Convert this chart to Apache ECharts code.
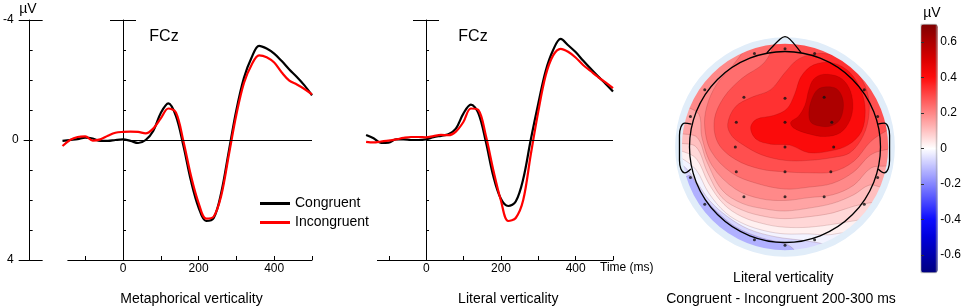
<!DOCTYPE html>
<html lang="en">
<head>
<meta charset="UTF-8">
<title>FCz ERPs and topography</title>
<script src="https://cdn.jsdelivr.net/npm/echarts@6/dist/echarts.min.js"></script>
<style>
  html, body { margin: 0; padding: 0; background: #fff; }
  #main { width: 964px; height: 308px; }
</style>
</head>
<body>
<div id="main"></div>
<script>
// ---- ERP data at FCz (uV, negative up), every 20 ms ----
const times = [-160, -140, -120, -100, -80, -60, -40, -20, 0, 20, 40, 60, 80, 100, 120, 140, 160,
  180, 200, 220, 240, 260, 280, 300, 320, 340, 360, 380, 400, 420, 440, 460, 480, 500];
const metaCongruent = [0.03, 0.0, -0.03, -0.08, -0.05, 0.03, 0.03, 0.0, -0.02, 0.03, 0.1, 0.0, -0.3, -0.9, -1.22, -0.8, 0.2,
  1.37, 2.25, 2.7, 2.6, 1.75, 0.37, -1.0, -2.07, -2.74, -3.14, -3.05, -2.88, -2.63, -2.35, -2.1, -1.82, -1.49];
const metaIncongruent = [0.2, 0.0, -0.1, -0.12, 0.02, -0.02, -0.14, -0.24, -0.27, -0.28, -0.27, -0.22, -0.38, -0.72, -1.05, -0.92, 0.05,
  1.2, 2.1, 2.62, 2.55, 1.85, 0.5, -0.85, -1.9, -2.5, -2.82, -2.76, -2.58, -2.25, -1.98, -1.85, -1.7, -1.52];
const litCongruent = [-0.17, -0.06, 0.1, 0.09, -0.02, -0.02, 0.0, 0.0, -0.02, -0.09, -0.14, -0.19, -0.38, -0.88, -1.18, -0.9, 0.05,
  1.2, 1.95, 2.2, 2.05, 1.3, 0.0, -1.2, -2.3, -3.0, -3.37, -3.16, -2.93, -2.65, -2.38, -2.12, -1.88, -1.62];
const litIncongruent = [0.06, 0.08, 0.05, 0.02, -0.02, -0.07, -0.1, -0.1, -0.09, -0.13, -0.17, -0.16, -0.28, -0.6, -1.05, -1.0, -0.15,
  1.0, 2.0, 2.7, 2.6, 2.0, 0.5, -0.93, -2.15, -2.82, -3.04, -2.94, -2.75, -2.5, -2.3, -2.1, -1.92, -1.73];
const timeTicks = [-100, 0, 100, 200, 300, 400, 500];
const timeLabels = [0, 200, 400];

// ---- topography (head units, head radius = 1) ----
const electrodes = [[-0.32, 0.98], [0, 1.03], [0.31, 0.98], [-0.84, 0.60], [0.83, 0.60], [-0.43, 0.52], [0, 0.51], [0.41, 0.52],
  [-0.99, 0.32], [0.97, 0.32], [-0.51, 0.26], [0, 0.26], [0.49, 0.26], [-0.52, 0], [0, 0], [0.51, 0],
  [-0.99, -0.32], [0.97, -0.32], [-0.51, -0.26], [0, -0.26], [0.48, -0.26], [-0.43, -0.52], [0, -0.52], [0.41, -0.52],
  [-0.84, -0.60], [0.83, -0.60], [-0.32, -0.97], [0, -1.03], [0.31, -0.97]];
const baseValue = -0.13;
const bandValues = [-0.065, -0.02, 0.025, 0.065, 0.105, 0.15, 0.195, 0.24, 0.29, 0.34, 0.41, 0.51, 0.6];
const bandRimDir = [1, 1, 1, 1, 1, 1, 1, 1, 1, 0, 0, 0, 0];
const bandLines = [
  [[-0.99, -0.30], [-0.87, -0.50], [-0.71, -0.68], [-0.51, -0.84], [-0.25, -0.95], [0.02, -1.02], [0.12, -1.1]],
  [[-1.06, -0.20], [-0.93, -0.36], [-0.79, -0.56], [-0.60, -0.73], [-0.38, -0.86], [-0.10, -0.94], [0.2, -0.98], [0.42, -1.02]],
  [[-1.08, -0.12], [-0.93, -0.24], [-0.80, -0.48], [-0.62, -0.69], [-0.42, -0.81], [-0.20, -0.88], [0, -0.91], [0.25, -0.91], [0.45, -0.92], [0.62, -0.90]],
  [[-1.09, -0.04], [-0.93, -0.12], [-0.80, -0.38], [-0.64, -0.60], [-0.45, -0.73], [-0.20, -0.81], [0, -0.84], [0.25, -0.84], [0.50, -0.81], [0.68, -0.78], [0.82, -0.76]],
  [[-1.09, 0.04], [-0.93, 0.0], [-0.81, -0.27], [-0.66, -0.53], [-0.45, -0.66], [-0.20, -0.73], [0, -0.75], [0.25, -0.73], [0.50, -0.69], [0.72, -0.62], [0.93, -0.58]],
  [[-1.09, 0.14], [-0.92, 0.10], [-0.82, -0.15], [-0.66, -0.45], [-0.45, -0.59], [-0.20, -0.65], [0, -0.67], [0.25, -0.64], [0.50, -0.59], [0.72, -0.50], [0.88, -0.40], [1.0, -0.42]],
  [[-1.02, 0.42], [-0.90, 0.34], [-0.87, 0.10], [-0.76, -0.20], [-0.52, -0.44], [-0.26, -0.54], [0, -0.56], [0.25, -0.53], [0.50, -0.50], [0.72, -0.40], [0.90, -0.22], [1.06, -0.20]],
  [[-0.40, 1.05], [-0.55, 0.85], [-0.72, 0.65], [-0.82, 0.42], [-0.84, 0.20], [-0.77, -0.05], [-0.56, -0.27], [-0.30, -0.38], [0, -0.44], [0.25, -0.42], [0.50, -0.38], [0.72, -0.26], [0.90, -0.08], [1.09, -0.02]],
  [[-0.10, 1.10], [-0.22, 0.88], [-0.45, 0.72], [-0.64, 0.52], [-0.74, 0.28], [-0.70, 0.04], [-0.52, -0.13], [-0.26, -0.23], [0, -0.26], [0.25, -0.27], [0.50, -0.26], [0.72, -0.15], [0.90, 0.06], [1.08, 0.18]],
  [[-0.60, 0.24], [-0.52, 0.42], [-0.35, 0.52], [-0.15, 0.60], [0.0, 0.78], [0.14, 0.92], [0.35, 0.98], [0.56, 0.94], [0.74, 0.80], [0.86, 0.58], [0.88, 0.35], [0.82, 0.12], [0.68, -0.06], [0.50, -0.11], [0.25, -0.14], [0.0, -0.14], [-0.25, -0.08], [-0.45, 0.03], [-0.56, 0.12]],
  [[-0.36, 0.20], [-0.30, 0.29], [-0.12, 0.33], [0.02, 0.40], [0.10, 0.55], [0.17, 0.74], [0.30, 0.86], [0.50, 0.88], [0.68, 0.78], [0.80, 0.58], [0.84, 0.38], [0.80, 0.16], [0.66, 0.02], [0.48, -0.04], [0.25, -0.06], [0.05, 0.02], [-0.15, 0.03], [-0.30, 0.08]],
  [[0.40, 0.76], [0.57, 0.73], [0.67, 0.62], [0.71, 0.45], [0.68, 0.28], [0.58, 0.15], [0.42, 0.11], [0.24, 0.14], [0.09, 0.20], [0.06, 0.26], [0.14, 0.32], [0.21, 0.44], [0.25, 0.60], [0.30, 0.71]],
  [[0.43, 0.63], [0.54, 0.61], [0.60, 0.52], [0.61, 0.40], [0.57, 0.28], [0.48, 0.22], [0.36, 0.22], [0.27, 0.26], [0.25, 0.36], [0.28, 0.50], [0.34, 0.60]]
];
const nose = [[-0.19, 0.985], [-0.05, 1.13], [0, 1.155], [0.05, 1.13], [0.17, 0.985]];
const earRight = [[0.97, 0.24], [1.04, 0.25], [1.08, 0.21], [1.095, 0.12], [1.095, -0.14], [1.08, -0.23], [1.04, -0.27], [0.975, -0.23]];
const earLeft = earRight.map(p => [-p[0] - 0.01, p[1]]);
const colorbarTicks = [-0.6, -0.4, -0.2, 0, 0.2, 0.4, 0.6];
const colorScale = ['#000080', '#0000ad', '#0000db', '#0c0cff', '#4949ff', '#8686ff', '#c2c2ff', '#ffffff',
  '#ffc2c2', '#ff8686', '#ff4949', '#ff0c0c', '#db0000', '#ad0000', '#800000'];

const FONT = 'Liberation Sans, Arial, sans-serif';
const MAP_R = 1.09, RIM_R = 1.13;

// contour line closed along the scalp rim
function bandPolygon(pts, dir) {
  if (!dir) return pts;
  const a = pts[pts.length - 1], b = pts[0];
  let a0 = Math.atan2(a[1], a[0]), a1 = Math.atan2(b[1], b[0]);
  if (dir > 0) { while (a1 <= a0) a1 += 2 * Math.PI; }
  const n = Math.ceil((a1 - a0) / (Math.PI / 36));
  const out = pts.slice();
  for (let k = 0; k <= n; k++) {
    const t = a0 + (a1 - a0) * k / n;
    out.push([RIM_R * Math.cos(t), RIM_R * Math.sin(t)]);
  }
  return out;
}
const bandPolys = bandLines.map((l, i) => bandPolygon(l, bandRimDir[i]));

const chart = echarts.init(document.getElementById('main'));

const grid = [], xAxis = [], yAxis = [];
function addGrid(g, x, y) {
  grid.push(g);
  const gi = grid.length - 1;
  xAxis.push(Object.assign({gridIndex: gi, type: 'value', show: false}, x || {}));
  const xi = xAxis.length - 1;
  yAxis.push(Object.assign({gridIndex: gi, type: 'value', show: false}, y || {}));
  return {gi, xi, yi: yAxis.length - 1};
}
const black = {color: '#000', width: 1};
// a vertical uV axis with caps at -4 and 4
function capAxes(gi, withLabels) {
  const base = {gridIndex: gi, type: 'value', min: -4, max: 4, inverse: true, position: 'left', splitLine: {show: false}};
  yAxis.push(Object.assign({}, base, {
    interval: 1, axisLine: {show: true, lineStyle: black},
    axisTick: {show: true, inside: true, length: 3, lineStyle: black},
    axisLabel: withLabels ? {show: true, margin: 16, fontSize: 12, color: '#000',
      formatter: v => (v === -4 || v === 4) ? String(v) : ''} : {show: false}
  }));
  yAxis.push(Object.assign({}, base, {
    interval: 8, axisLine: {show: false},
    axisTick: {show: true, inside: false, length: withLabels ? 11 : 13, lineStyle: black}, axisLabel: {show: false}
  }));
  yAxis.push(Object.assign({}, base, {
    interval: 8, axisLine: {show: false},
    axisTick: {show: true, inside: true, length: 13, lineStyle: black}, axisLabel: {show: false}
  }));
  if (withLabels) {
    yAxis.push(Object.assign({}, base, {
      interval: 4, axisLine: {show: false},
      axisTick: {show: true, inside: false, length: 6, lineStyle: black},
      axisLabel: {show: true, margin: 11, fontSize: 12, color: '#000', formatter: v => v === 0 ? '0' : ''}
    }));
  }
}
function timeAxis(min) {
  return {
    show: true, position: 'bottom', min: min, max: 500,
    axisLine: {show: true, onZero: false, lineStyle: black},
    axisTick: {show: true, inside: true, length: 4, customValues: timeTicks, lineStyle: black},
    axisLabel: {show: true, customValues: timeLabels, margin: 3, fontSize: 12, color: '#000'},
    splitLine: {show: false}
  };
}
const uvRange = {min: -4, max: 4, inverse: true};

const d1 = addGrid({left: 62.5, top: 20, width: 249.5, height: 240}, {min: -160, max: 500}, uvRange);
addGrid({left: 67.8, top: 20, width: 244.2, height: 240}, timeAxis(-146), uvRange);
const d2 = addGrid({left: 366.1, top: 20, width: 246.9, height: 240}, {min: -160, max: 500}, uvRange);
addGrid({left: 377.4, top: 20, width: 235.6, height: 240}, timeAxis(-131), uvRange);
const gL = addGrid({left: 29, top: 20, width: 1, height: 240}, {min: 0, max: 1}, uvRange);
capAxes(gL.gi, true);
const gV1 = addGrid({left: 123, top: 20, width: 1, height: 240}, {min: 0, max: 1}, uvRange);
capAxes(gV1.gi, false);
const gV2 = addGrid({left: 426, top: 20, width: 1, height: 240}, {min: 0, max: 1}, uvRange);
capAxes(gV2.gi, false);
// topography: centre (785,147), head radius 95.5 px
const T = addGrid({left: 785 - 1.25 * 95.5, top: 147 - 1.25 * 95.5, width: 2.5 * 95.5, height: 2.5 * 95.5},
  {min: -1.25, max: 1.25}, {min: -1.25, max: 1.25});
// colour bar scale
const cb = addGrid({left: 921, top: 24.3, width: 16.7, height: 248.4, show: true, borderColor: '#999', borderWidth: 0.6, z: 6},
  {min: 0, max: 1}, {min: -0.7, max: 0.7});
yAxis[cb.yi] = {
  gridIndex: cb.gi, type: 'value', min: -0.7, max: 0.7, position: 'right', z: 6,
  axisLine: {show: false}, splitLine: {show: false},
  axisTick: {show: false},
  axisLabel: {show: true, customValues: colorbarTicks, margin: 4, fontSize: 12, color: '#000',
    formatter: v => v === 0 ? '0' : v.toFixed(1)}
};
yAxis.push({
  gridIndex: cb.gi, type: 'value', min: -0.7, max: 0.7, position: 'left', z: 6,
  axisLine: {show: false}, splitLine: {show: false}, axisLabel: {show: false},
  axisTick: {show: true, inside: true, length: 3, customValues: colorbarTicks, lineStyle: {color: '#333', width: 1}}
});

function erpLine(name, vals, g, color, zero) {
  const s = {
    name: name, type: 'line', xAxisIndex: g.xi, yAxisIndex: g.yi, smooth: 0.35, symbol: 'none',
    data: times.map((t, i) => [t, vals[i]]), lineStyle: {color: color, width: 2.2}, itemStyle: {color: color},
    silent: true, z: 3
  };
  if (zero) {
    s.markLine = {silent: true, symbol: 'none', label: {show: false}, lineStyle: {color: '#000', width: 1, type: 'solid'},
      data: [[{coord: [0, 0]}, {coord: [500, 0]}]]};
  }
  return s;
}

const series = [
  erpLine('Congruent', metaCongruent, d1, '#000', true),
  erpLine('Incongruent', metaIncongruent, d1, '#ff0000', false),
  erpLine('Congruent', litCongruent, d2, '#000', true),
  erpLine('Incongruent', litIncongruent, d2, '#ff0000', false)
];
const bandSeriesIndex = series.length;
series.push({
  type: 'custom', xAxisIndex: T.xi, yAxisIndex: T.yi, silent: true,
  dimensions: ['v', 'band', 'x', 'y'], encode: {x: 2, y: 3},
  data: [[baseValue, -1, 0, 0]].concat(bandValues.map((v, i) => [v, i, 0, 0])),
  renderItem: (params, api) => {
    const idx = api.value(1);
    const fill = api.visual('color');
    if (idx < 0) {
      const c = api.coord([0, 0]);
      return {type: 'circle', shape: {cx: c[0], cy: c[1], r: api.size([MAP_R, 0])[0]}, style: {fill: fill}};
    }
    return {type: 'polygon', shape: {points: bandPolys[idx].map(p => api.coord(p)), smooth: 0.35},
      style: {fill: fill, stroke: 'rgba(90,0,0,0.25)', lineWidth: 0.6}};
  }
});
function ring(r, w, color) {
  return {
    type: 'custom', xAxisIndex: T.xi, yAxisIndex: T.yi, silent: true, data: [[0, 0]],
    renderItem: (params, api) => {
      const c = api.coord([0, 0]);
      return {type: 'circle', shape: {cx: c[0], cy: c[1], r: api.size([r, 0])[0]},
        style: {fill: 'none', stroke: color, lineWidth: w ? api.size([w, 0])[0] : 1.3}};
    }
  };
}
series.push(ring(1.115, 0.07, '#e1edf9'));
series.push(ring(1.0, 0, '#000'));
[nose, earLeft, earRight].forEach(pts => series.push({
  type: 'line', xAxisIndex: T.xi, yAxisIndex: T.yi, data: pts, smooth: 0.4, symbol: 'none', silent: true,
  lineStyle: {color: '#000', width: 1.3}
}));
series.push({
  type: 'scatter', xAxisIndex: T.xi, yAxisIndex: T.yi, data: electrodes, symbolSize: 3, silent: true,
  itemStyle: {color: '#111'}
});

function label(text, x, y, size, align) {
  return {type: 'text', x: x, y: y, silent: true, z: 10,
    style: {text: text, fontSize: size, fontFamily: FONT, fill: '#000',
      align: align || 'center', verticalAlign: 'middle', textAlign: align || 'center', textVerticalAlign: 'middle'}};
}

const option = {
  animation: false,
  textStyle: {fontFamily: FONT},
  grid: grid, xAxis: xAxis, yAxis: yAxis, series: series,
  legend: {
    data: ['Congruent', 'Incongruent'], orient: 'vertical', left: 260, top: 196.5, padding: 0,
    icon: 'rect', itemWidth: 30, itemHeight: 3, itemGap: 5, selectedMode: false,
    textStyle: {fontSize: 14, color: '#000', lineHeight: 14, fontFamily: FONT}
  },
  visualMap: {
    type: 'continuous', seriesIndex: bandSeriesIndex, dimension: 0, min: -0.7, max: 0.7,
    inRange: {color: colorScale}, left: 921, top: 24.3, itemWidth: 16.7, itemHeight: 248.4,
    calculable: false, hoverLink: false, padding: 0, text: null, orient: 'vertical'
  },
  graphic: [
    label('\u00b5V', 28, 9, 14),
    label('FCz', 164, 37, 16),
    label('FCz', 473, 37, 16),
    label('Metaphorical verticality', 191.5, 299, 14),
    label('Literal verticality', 508.3, 299, 14),
    label('Time (ms)', 600, 268, 12, 'left'),
    label('Literal verticality', 783.3, 278, 14),
    label('Congruent - Incongruent 200-300 ms', 781, 299, 14),
    label('\u00b5V', 932, 13, 14)
  ]
};
chart.setOption(option);
</script>
</body>
</html>
